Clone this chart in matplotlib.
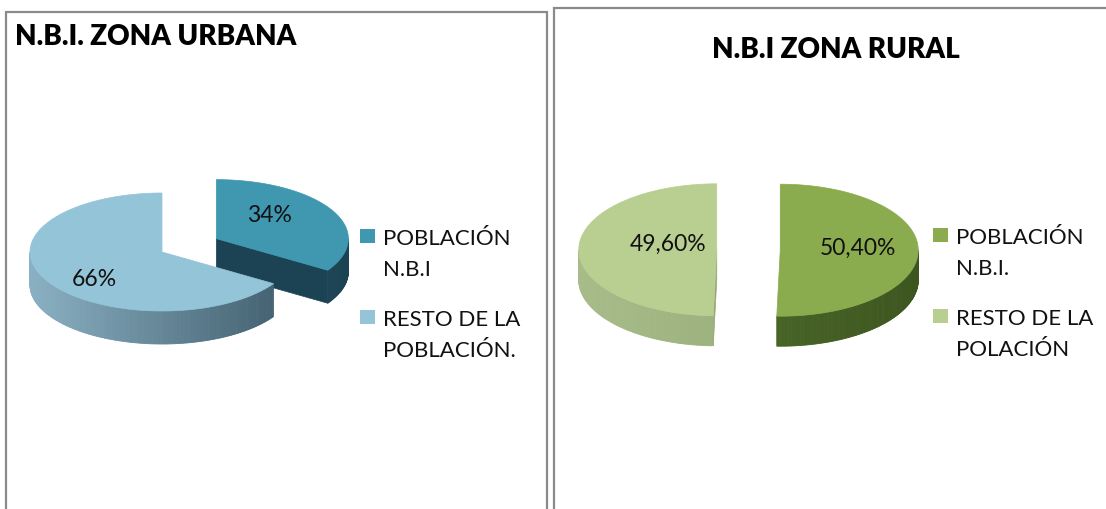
import numpy as np
import matplotlib.pyplot as plt
from matplotlib.colors import to_rgb
from matplotlib.patches import Polygon, Rectangle

plt.rcParams['font.family'] = ['Lato', 'DejaVu Sans']

# datos
urban_title = 'N.B.I. ZONA URBANA'
urban_labels = ['POBLACIÓN\nN.B.I', 'RESTO DE LA\nPOBLACIÓN.']
urban_values = [34, 66]

rural_title = 'N.B.I ZONA RURAL'
rural_labels = ['POBLACIÓN\nN.B.I.', 'RESTO DE LA\nPOLACIÓN']
rural_values = [50.4, 49.6]

# colores: cara superior, lateral claro, lateral oscuro
urban_top = ['#3f97b0', '#93c4d8']
urban_side = [('#28596a', '#1c4353'), ('#8ab1c3', '#3f5c6c')]
rural_top = ['#8bab4f', '#b9cf91']
rural_side = [('#52712b', '#3d5520'), ('#a7bc89', '#92a874')]

TEXT = '#111111'


def rim(cx, cy, rx, ry, t, dz=0.0):
    return cx + rx * np.cos(t), cy - ry * np.sin(t) + dz


def pie3d(ax, values, tops, sides, center, rx, ry, depth, explode, label_xy, fmt):
    total = float(sum(values))
    start = 90.0
    slices = []
    for i, v in enumerate(values):
        sweep = 360.0 * v / total
        t2, t1 = np.radians(start), np.radians(start - sweep)
        mid = (t1 + t2) / 2
        cx = center[0] + explode[i] * rx * np.cos(mid)
        cy = center[1] - explode[i] * ry * np.sin(mid)
        slices.append((i, t1, t2, cx, cy))
        start -= sweep

    # las porciones de atras se dibujan primero
    for i, t1, t2, cx, cy in sorted(slices, key=lambda s: s[4]):
        light, dark = sides[i]
        c_light, c_dark = np.array(to_rgb(light)), np.array(to_rgb(dark))

        # caras radiales visibles
        for t, visible in ((t1, np.cos(t1) > 1e-3), (t2, np.cos(t2) < -1e-3)):
            if visible:
                p = rim(cx, cy, rx, ry, t)
                q = rim(cx, cy, rx, ry, t, depth)
                ax.add_patch(Polygon([(cx, cy), p, q, (cx, cy + depth)],
                                     closed=True, fc=dark, ec=dark, lw=0.5))

        # pared exterior frontal con degradado
        ts = np.linspace(t1, t2, max(int(np.degrees(t2 - t1)), 2) + 1)
        for a, b in zip(ts[:-1], ts[1:]):
            m = (a + b) / 2
            if np.sin(m) >= 0:
                continue
            f = (1 + np.cos(m)) / 2
            col = c_light * (1 - f) + c_dark * f
            pa, pb = rim(cx, cy, rx, ry, a), rim(cx, cy, rx, ry, b)
            qa, qb = rim(cx, cy, rx, ry, a, depth), rim(cx, cy, rx, ry, b, depth)
            ax.add_patch(Polygon([pa, pb, qb, qa], closed=True,
                                 fc=col, ec=col, lw=0.6))

        # cara superior
        tt = np.linspace(t1, t2, 200)
        xs, ys = rim(cx, cy, rx, ry, tt)
        pts = [(cx, cy)] + list(zip(xs, ys))
        ax.add_patch(Polygon(pts, closed=True, fc=tops[i], ec=tops[i], lw=0.5))

        dx, dy = label_xy[i]
        ax.text(cx + dx * rx, cy - dy * ry, fmt(values[i]), ha='center',
                va='center', fontsize=16.5, color=TEXT)


def legend(ax, x, y0, labels, colors, step=81, line=31):
    for k, (lab, col) in enumerate(zip(labels, colors)):
        yb = y0 + k * step
        ax.add_patch(Rectangle((x, yb - 16), 15, 14, fc=col, ec='none'))
        for j, txt in enumerate(lab.split('\n')):
            ax.text(x + 23, yb + j * line, txt, ha='left', va='baseline',
                    fontsize=16, color=TEXT)


fig = plt.figure(figsize=(11.06, 5.09), dpi=100)
ax = fig.add_axes([0, 0, 1, 1])
ax.set_xlim(0, 1106)
ax.set_ylim(509, 0)
ax.axis('off')

# marcos de los dos graficos
ax.add_patch(Rectangle((5.5, 11.5), 541, 520, fc='white', ec='#8a8a8a', lw=1.6))
ax.add_patch(Rectangle((553.5, 8), 570, 520, fc='white', ec='#8a8a8a', lw=1.6))

# zona urbana
ax.text(15, 45, urban_title, ha='left', va='baseline', fontsize=20,
        fontweight='heavy', color='black')
pie3d(ax, urban_values, urban_top, urban_side, (162, 252), 132, 59, 33,
      [0.47, 0.0], [(0.40, 0.39), (-0.51, -0.47)],
      lambda v: f'{v:.0f}%')
legend(ax, 360, 245, urban_labels, urban_top)

# zona rural
ax.text(836, 58, rural_title, ha='center', va='baseline', fontsize=20,
        fontweight='heavy', color='black')
pie3d(ax, rural_values, rural_top, rural_side, (748.5, 250), 138, 66, 30,
      [0.23, 0.23], [(0.56, 0.03), (-0.35, 0.08)],
      lambda v: f'{v:.2f}%'.replace('.', ','))
legend(ax, 933, 244, rural_labels, rural_top)

fig.savefig('out.png', dpi=100)
